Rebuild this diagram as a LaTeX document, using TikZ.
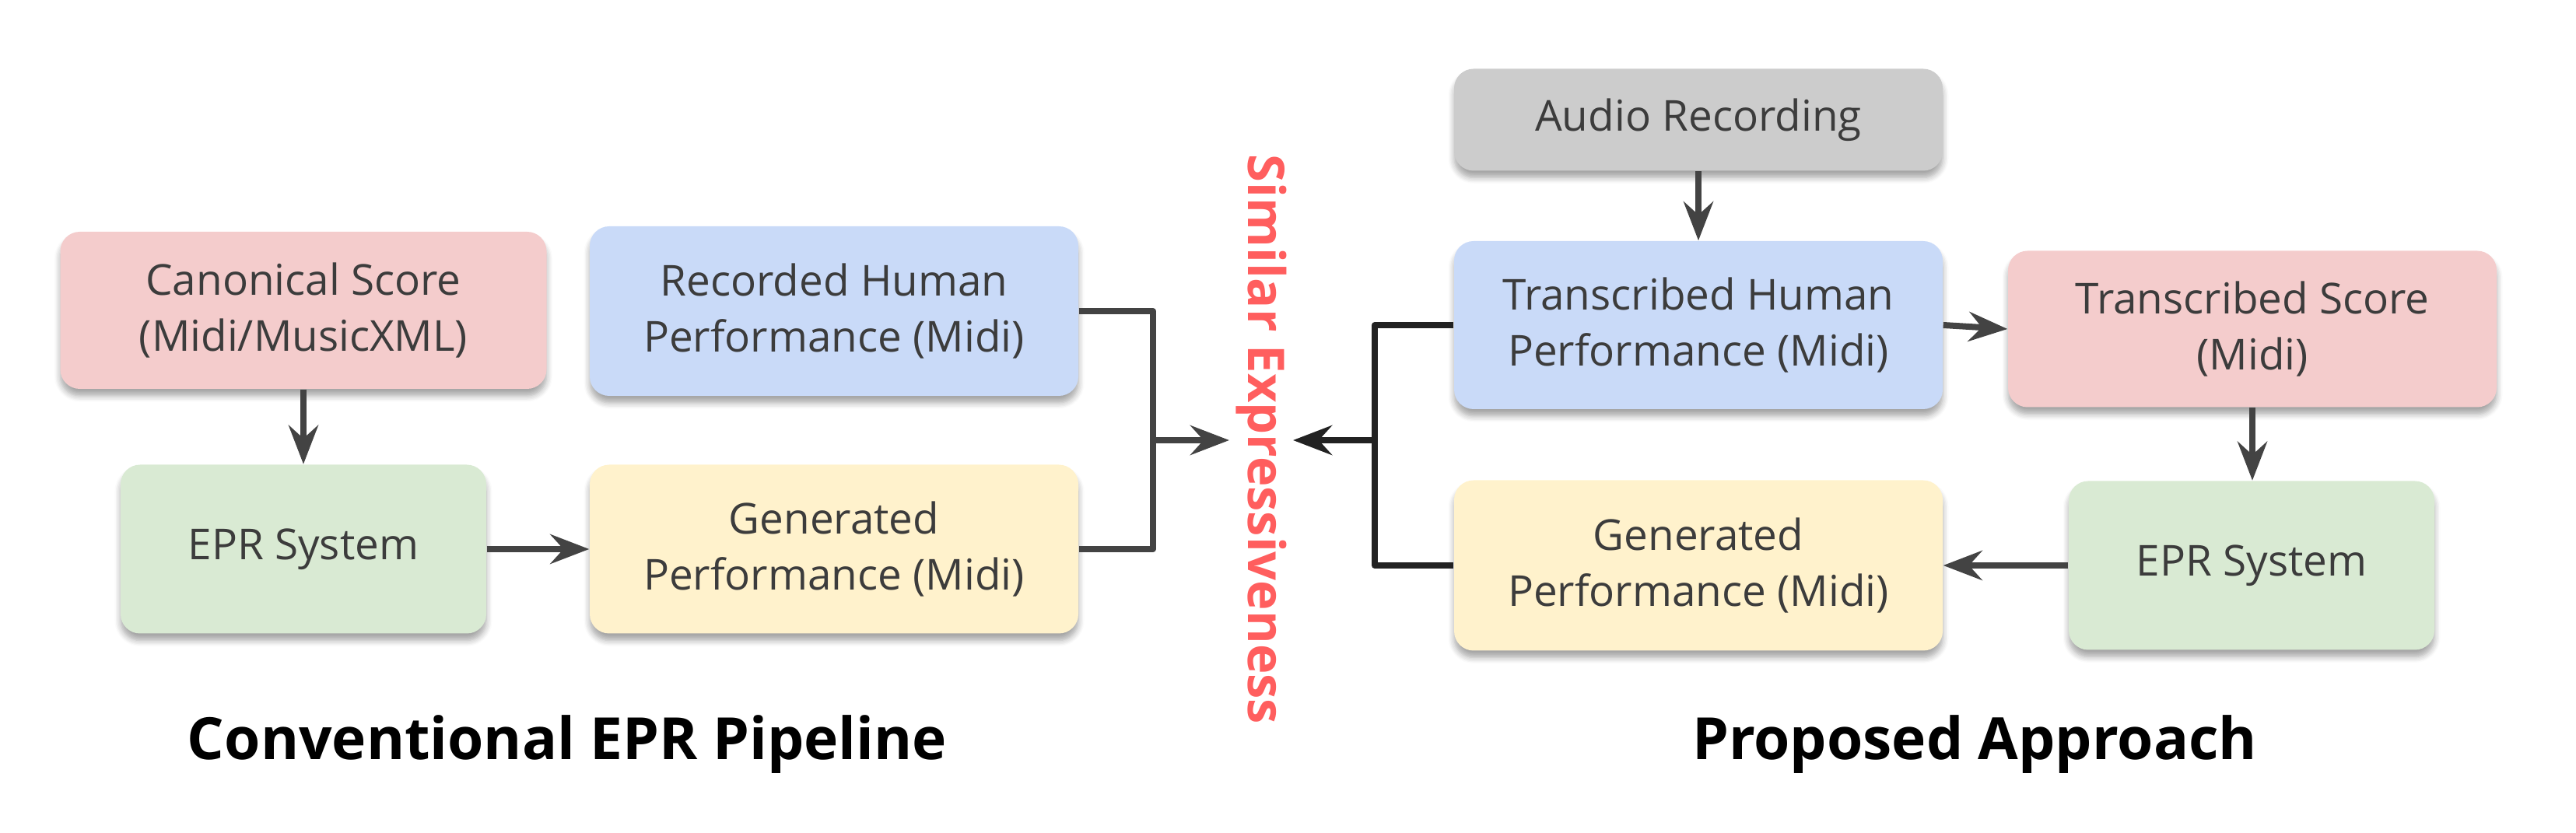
\documentclass[tikz,border=0pt]{standalone}
\usepackage{fontspec}
\setmainfont{Open Sans}
\usetikzlibrary{arrows.meta,shadows.blur}

\definecolor{scorered}{HTML}{F4CCCC}
\definecolor{perfblue}{HTML}{C9DAF8}
\definecolor{eprgreen}{HTML}{D9EAD3}
\definecolor{genyellow}{HTML}{FFF2CC}
\definecolor{audiogray}{HTML}{CCCCCC}
\definecolor{textgray}{HTML}{3C3C3C}
\definecolor{linegray}{HTML}{434343}
\definecolor{linedark}{HTML}{222222}
\definecolor{simred}{HTML}{FF5E5E}

\begin{document}
\begin{tikzpicture}[
        box/.style={rounded corners=0.25cm, align=center, inner sep=0pt,
            text=textgray, font=\fontsize{15.6}{20.6}\selectfont,
            blur shadow={shadow xshift=0pt, shadow yshift=-0.09cm,
                shadow blur steps=6, shadow opacity=35}},
        wide/.style={box, minimum width=6.28cm},
        narrow/.style={box, minimum width=4.7cm},
        conn/.style={line width=0.08cm, draw=linegray},
        arr/.style={conn, -{Stealth[length=0.5cm, width=0.38cm, inset=0.17cm]}},
        title/.style={font=\fontsize{21.3}{25}\selectfont\bfseries, anchor=base}
    ]
    \useasboundingbox (0,0) rectangle (33.11,10.71);

    % conventional pipeline
        \node[wide, fill=scorered, minimum width=6.25cm, minimum height=2.02cm]
            (canon) at (3.90,6.72) {Canonical Score\\(Midi/MusicXML)};
        \node[wide, fill=perfblue, minimum height=2.18cm]
            (recorded) at (10.72,6.71) {Recorded Human\\Performance (Midi)};
        \node[narrow, fill=eprgreen, minimum height=2.17cm]
            (eprL) at (3.90,3.65) {EPR System};
        \node[wide, fill=genyellow, minimum height=2.17cm]
            (genL) at (10.72,3.65) {Generated\\Performance (Midi)};
            \draw[arr] (canon.south) -- (eprL.north);
            \draw[arr] (eprL.east) -- (genL.west);

    % proposed approach
        \node[wide, fill=audiogray, minimum height=1.31cm]
            (audio) at (21.83,9.17) {Audio Recording};
        \node[wide, fill=perfblue, minimum height=2.16cm]
            (transH) at (21.83,6.53) {Transcribed Human\\Performance (Midi)};
        \node[wide, fill=scorered, minimum height=2.01cm]
            (transS) at (28.95,6.48) {Transcribed Score\\(Midi)};
        \node[narrow, fill=eprgreen, minimum height=2.17cm]
            (eprR) at (28.94,3.44) {EPR System};
        \node[wide, fill=genyellow, minimum height=2.19cm]
            (genR) at (21.83,3.44) {Generated\\Performance (Midi)};
            \draw[arr] (audio.south) -- (transH.north);
            \draw[arr] (transH.east) -- (transS.west);
            \draw[arr] (transS.south) -- (transS.south |- eprR.north);
            \draw[arr] (eprR.west) -- (genR.east);

    % similar expressiveness in the middle
        \node[rotate=-90, text=simred, font=\fontsize{18.5}{22}\selectfont\bfseries]
            (similar) at (16.21,5.06) {Similar Expressiveness};
        \coordinate (joinL) at (14.82,5.05);
        \coordinate (tipL) at (15.80,5.05);
        \coordinate (joinR) at (17.67,5.05);
        \coordinate (tipR) at (16.62,5.05);
            \draw[conn, line join=round] (recorded.east) -| (joinL) |- (genL.east);
            \draw[arr] (joinL) -- (tipL);
            \draw[conn, draw=linedark, line join=round] (transH.west) -| (joinR) |- (genR.west);
            \draw[arr, draw=linedark] (joinR) -- (tipR);

    % titles
        \node[title] (titleL) at (7.29,0.94) {Conventional EPR Pipeline};
        \node[title] (titleR) at (25.38,0.94) {Proposed Approach};
\end{tikzpicture}
\end{document}
